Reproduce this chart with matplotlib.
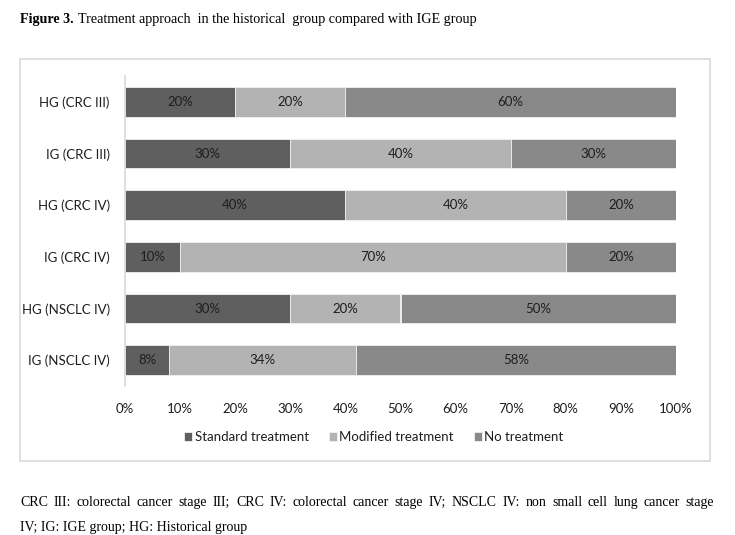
import matplotlib.pyplot as plt
import numpy as np
from matplotlib.patches import Rectangle

# data
groups = ['HG (CRC III)', 'IG (CRC III)', 'HG (CRC IV)', 'IG (CRC IV)',
          'HG (NSCLC IV)', 'IG (NSCLC IV)']
standard = [20, 30, 40, 10, 30, 8]
modified = [20, 40, 40, 70, 20, 34]
no_treat = [60, 30, 20, 20, 50, 58]
series_names = ['Standard treatment', 'Modified treatment', 'No treatment']
colors = ['#5f5f5f', '#b3b3b3', '#898989']
xticks = np.arange(0, 101, 10)

W, H = 735, 535
fig = plt.figure(figsize=(W / 100, H / 100), dpi=100)
fig.patch.set_facecolor('white')

chart_font = 'Lato'
serif = 'Liberation Serif'
txt_col = '#1e1e1e'

# chart frame (Excel style box)
fig.patches.append(Rectangle((20 / W, 1 - 461 / H), 690 / W, 402 / H,
                             transform=fig.transFigure, fill=False,
                             edgecolor='#d9d9d9', linewidth=1.2))

ax = fig.add_axes([125 / W, 1 - 386 / H, 551 / W, 310 / H])
y = np.arange(len(groups))
left = np.zeros(len(groups))
for vals, name, c in zip([standard, modified, no_treat], series_names, colors):
    bars = ax.barh(y, vals, left=left, height=0.57, color=c, label=name,
                   edgecolor='#f0f0f0', linewidth=0.6)
    ax.bar_label(bars, labels=[f'{v}%' for v in vals], label_type='center',
                 fontsize=9.5, family=chart_font, color=txt_col)
    left += np.array(vals)

ax.set_xlim(0, 100)
ax.set_ylim(len(groups) - 0.5, -0.5)
ax.set_yticks(y)
ax.set_yticklabels(groups, fontsize=9.5, family=chart_font, color=txt_col)
ax.set_xticks(xticks)
ax.set_xticklabels([f'{t}%' for t in xticks], fontsize=9.5, family=chart_font,
                   color=txt_col)
ax.tick_params(axis='both', length=0)
ax.tick_params(axis='x', pad=12)
ax.tick_params(axis='y', pad=11)
for s in ['top', 'right', 'bottom']:
    ax.spines[s].set_visible(False)
ax.spines['left'].set_color('#d9d9d9')
ax.spines['left'].set_linewidth(1.2)

leg = fig.legend(loc='center', bbox_to_anchor=(374 / W, 1 - 437 / H), ncol=3,
                 frameon=False, handlelength=0.6, handleheight=0.6,
                 handletextpad=0.2, columnspacing=1.5,
                 prop={'family': chart_font, 'size': 9.5})
for t in leg.get_texts():
    t.set_color(txt_col)

# title: bold "Figure 3." then plain text
renderer = fig.canvas.get_renderer()
t1 = fig.text(20 / W, 1 - 23 / H, 'Figure 3.', fontsize=10.2, family=serif,
              fontweight='bold', va='baseline', ha='left')
bb = t1.get_window_extent(renderer)
fig.text((bb.x1 + 4) / W, 1 - 23 / H,
         'Treatment approach  in the historical  group compared with IGE group',
         fontsize=10.2, family=serif, va='baseline', ha='left')

# footnote, first line justified
line1 = ('CRC III: colorectal cancer stage III; CRC IV: colorectal cancer stage IV;  '
         'NSCLC IV: non small cell lung cancer stage').split()
x0, x1 = 20, 714
widths = []
for w in line1:
    tt = fig.text(0, 0, w, fontsize=10, family=serif)
    widths.append(tt.get_window_extent(renderer).width)
    tt.remove()
gap = (x1 - x0 - sum(widths)) / (len(line1) - 1)
xp = x0
for w, wd in zip(line1, widths):
    fig.text(xp / W, 1 - 506 / H, w, fontsize=10, family=serif,
             va='baseline', ha='left')
    xp += wd + gap
fig.text(20 / W, 1 - 531 / H, 'IV; IG: IGE group; HG: Historical group',
         fontsize=10, family=serif, va='baseline', ha='left')

fig.savefig('out.png', dpi=100)
